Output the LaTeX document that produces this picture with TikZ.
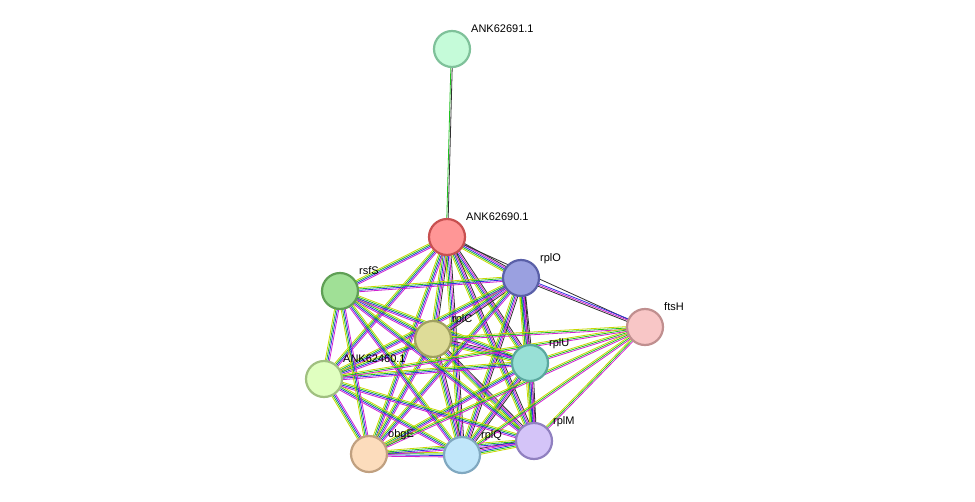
\documentclass[tikz,border=0pt]{standalone}
\usepackage{fontspec}
\setmainfont{Liberation Sans}
\usetikzlibrary{calc}
\definecolor{eY}{HTML}{C8D800}
\definecolor{eG}{HTML}{20C020}
\definecolor{eB}{HTML}{3030E0}
\definecolor{eM}{HTML}{D020D0}
\definecolor{eK}{HTML}{303030}
\tikzset{
 prot/.style={circle,minimum size=36pt,line width=2.2pt,inner sep=0pt},
 lab/.style={anchor=base west,font=\fontsize{11}{13}\selectfont,inner sep=0pt},
 eline/.style={line width=0.8pt}
}
\newcommand\myedge[3]{%
 \foreach \c [count=\i] in {#3} {\xdef\nn{\i}}%
 \foreach \c [count=\i] in {#3} {%
  \pgfmathsetmacro\o{(\i-(\nn+1)/2)*1.4}%
  \draw[eline,\c] ($(#1)!\o pt!90:(#2)$) -- ($(#2)!\o pt!-90:(#1)$);}}
\begin{document}
\begin{tikzpicture}[x=1pt,y=-1pt]
\useasboundingbox (0,0) rectangle (975,501);
\coordinate (p91) at (452,49);
\coordinate (p90) at (447,237);
\coordinate (pO) at (521,278);
\coordinate (pS) at (340,291);
\coordinate (pH) at (645,327);
\coordinate (pC) at (433,339);
\coordinate (pU) at (530,363);
\coordinate (pA) at (324,379);
\coordinate (pE) at (369,454);
\coordinate (pQ) at (462,455);
\coordinate (pM) at (534,441);
\myedge{p91}{p90}{eG,eK}
\foreach \a/\b in {p90/pO,p90/pC,p90/pU,p90/pQ,p90/pM,pO/pC,pO/pU,pO/pQ,pO/pM,pC/pU,pC/pQ,pC/pM,pU/pQ,pU/pM,pQ/pM}
  {\myedge{\a}{\b}{eY,eG,eB,eM,eK}}
\foreach \a/\b in {p90/pS,p90/pA,p90/pE,pO/pS,pO/pA,pO/pE,pC/pS,pC/pA,pC/pE,pU/pS,pU/pA,pU/pE,pQ/pS,pQ/pA,pQ/pE,pM/pS,pM/pA,pM/pE,pS/pA,pS/pE,pA/pE}
  {\myedge{\a}{\b}{eY,eG,eB,eM}}
\myedge{pH}{p90}{eK}
\myedge{pH}{pO}{eB,eM,eK}
\foreach \b in {pC,pU,pM,pQ,pE,pA}{\myedge{pH}{\b}{eY,eG,eM}}
\node[prot,fill={rgb,255:red,197;green,251;blue,217},draw={rgb,255:red,127;green,193;blue,154}] (n91) at (p91) {};
\node[prot,fill={rgb,255:red,255;green,150;blue,150},draw={rgb,255:red,200;green,80;blue,80}] (n90) at (p90) {};
\node[prot,fill={rgb,255:red,154;green,160;blue,224},draw={rgb,255:red,90;green,96;blue,168}] (nO) at (pO) {};
\node[prot,fill={rgb,255:red,160;green,224;blue,150},draw={rgb,255:red,95;green,159;blue,85}] (nS) at (pS) {};
\node[prot,fill={rgb,255:red,248;green,198;blue,198},draw={rgb,255:red,192;green,143;blue,143}] (nH) at (pH) {};
\node[prot,fill={rgb,255:red,222;green,220;blue,152},draw={rgb,255:red,160;green,160;blue,96}] (nC) at (pC) {};
\node[prot,fill={rgb,255:red,152;green,224;blue,214},draw={rgb,255:red,90;green,168;blue,158}] (nU) at (pU) {};
\node[prot,fill={rgb,255:red,224;green,255;blue,192},draw={rgb,255:red,160;green,192;blue,128}] (nA) at (pA) {};
\node[prot,fill={rgb,255:red,252;green,220;blue,188},draw={rgb,255:red,192;green,160;blue,128}] (nE) at (pE) {};
\node[prot,fill={rgb,255:red,192;green,230;blue,250},draw={rgb,255:red,128;green,168;blue,192}] (nQ) at (pQ) {};
\node[prot,fill={rgb,255:red,212;green,196;blue,248},draw={rgb,255:red,144;green,128;blue,192}] (nM) at (pM) {};
\foreach \p/\t in {p91/ANK62691.1,p90/ANK62690.1,pO/rplO,pS/rsfS,pH/ftsH,pC/rplC,pU/rplU,pA/ANK62460.1,pE/obgE,pQ/rplQ,pM/rplM}
  \node[lab] at ($(\p)+(19,-17)$) {\t};
\end{tikzpicture}
\end{document}
